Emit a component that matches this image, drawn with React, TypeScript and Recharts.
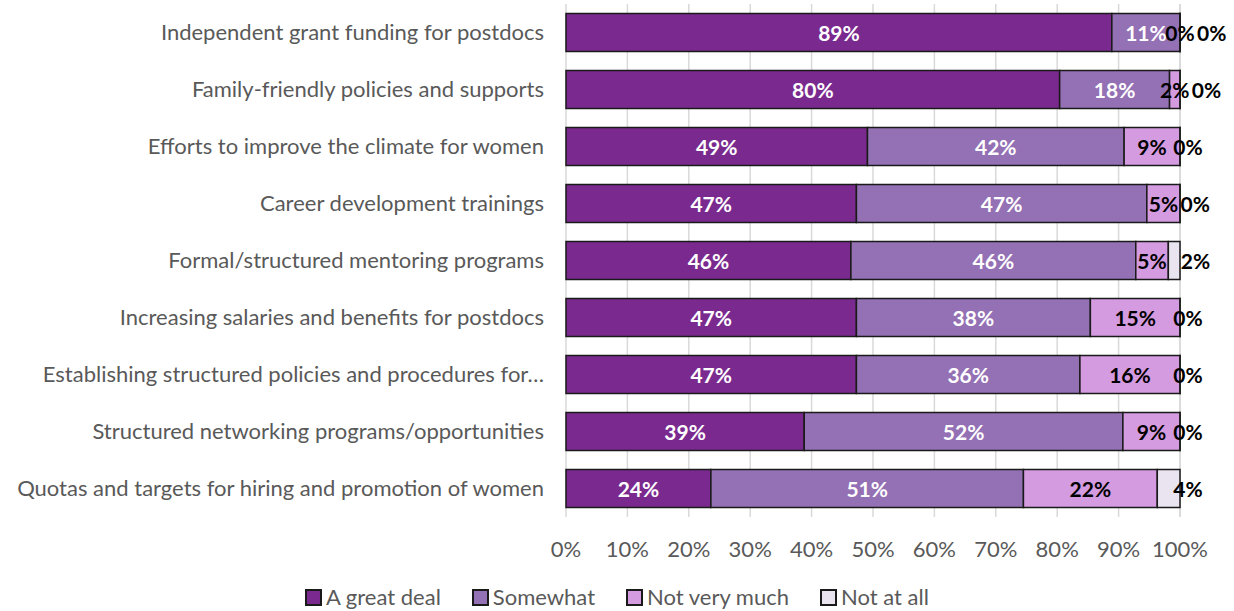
import React from 'react';
import {
  BarChart,
  Bar,
  XAxis,
  YAxis,
  CartesianGrid,
  LabelList
} from 'recharts';

const categories = [
  'Independent grant funding for postdocs',
  'Family-friendly policies and supports',
  'Efforts to improve the climate for women',
  'Career development trainings',
  'Formal/structured mentoring programs',
  'Increasing salaries and benefits for postdocs',
  'Establishing structured policies and procedures for…',
  'Structured networking programs/opportunities',
  'Quotas and targets for hiring and promotion of women'
];

const greatDeal = [88.9, 80.4, 49.1, 47.3, 46.4, 47.3, 47.3, 38.8, 23.6];
const somewhat = [11.1, 17.9, 41.8, 47.3, 46.4, 38.1, 36.4, 51.9, 50.9];
const notVeryMuch = [0, 1.7, 9.1, 5.4, 5.3, 14.6, 16.3, 9.3, 21.8];
const notAtAll = [0, 0, 0, 0, 1.9, 0, 0, 0, 3.7];

const xTicks = [0, 10, 20, 30, 40, 50, 60, 70, 80, 90, 100];

const series = [
  { key: 'greatDeal', name: 'A great deal', color: '#7A2A8F', labelColor: '#FFFFFF' },
  { key: 'somewhat', name: 'Somewhat', color: '#9470B4', labelColor: '#FFFFFF' },
  { key: 'notVeryMuch', name: 'Not very much', color: '#D59BE0', labelColor: '#000000' },
  { key: 'notAtAll', name: 'Not at all', color: '#EAE3F0', labelColor: '#000000' }
];

const data = categories.map((name, i) => ({
  name,
  greatDeal: greatDeal[i],
  somewhat: somewhat[i],
  notVeryMuch: notVeryMuch[i],
  notAtAll: notAtAll[i]
}));

const FONT = 'Lato, "Open Sans", sans-serif';
const LABEL_SIZE = 21;
const PLOT_W = 614;

const pct = (v: number) => `${Math.round(v)}%`;
const textW = (s: string) => s.length * LABEL_SIZE * 0.66;

const centeredLabel = (color: string) => (props: any) => {
  const { x, y, width, height, value } = props;
  return (
    <text
      x={Number(x) + Number(width) / 2}
      y={Number(y) + Number(height) / 2}
      textAnchor="middle"
      dominantBaseline="central"
      fill={color}
      fontFamily={FONT}
      fontSize={LABEL_SIZE}
      fontWeight={700}
    >
      {pct(Number(value))}
    </text>
  );
};

// "Not at all" labels sit just past the bar end, nudged right if the
// "Not very much" label is crowding the end of the bar
const notAtAllLabel = (props: any) => {
  const { x, y, width, height, value, index } = props;
  const end = Number(x) + Number(width);
  const nvm = notVeryMuch[index];
  const nvmCenter = end - ((nvm / 100) * PLOT_W) / 2;
  const nvmRight = nvmCenter + textW(pct(nvm)) / 2;
  const half = textW(pct(Number(value))) / 2;
  const cx = Math.max(end + 8, nvmRight + 4 + half);
  return (
    <text
      x={cx}
      y={Number(y) + Number(height) / 2}
      textAnchor="middle"
      dominantBaseline="central"
      fill="#000000"
      fontFamily={FONT}
      fontSize={LABEL_SIZE}
      fontWeight={700}
    >
      {pct(Number(value))}
    </text>
  );
};

const LegendBox = () => (
  <div
    style={{
      position: 'absolute',
      left: 0,
      top: 585,
      width: 1234,
      display: 'flex',
      justifyContent: 'center',
      fontFamily: FONT,
      fontSize: 22,
      lineHeight: '24px',
      color: '#595959'
    }}
  >
    {series.map((s, i) => (
      <div
        key={s.key}
        style={{ display: 'flex', alignItems: 'center', marginLeft: i === 0 ? 0 : 31 }}
      >
        <span
          style={{
            display: 'inline-block',
            width: 13,
            height: 13,
            background: s.color,
            border: '2px solid #1A1A1A',
            marginRight: 4
          }}
        />
        <span>{s.name}</span>
      </div>
    ))}
  </div>
);

export default function App() {
  return (
    <div style={{ position: 'absolute', left: 0, top: 0, width: 1234, height: 611, background: '#fff', overflow: 'hidden' }}>
      <BarChart
        width={1234}
        height={611}
        data={data}
        layout="vertical"
        margin={{ top: 4, right: 54, bottom: 44, left: 0 }}
        barCategoryGap="16.5%"
      >
        <CartesianGrid horizontal={false} stroke="#D9D9D9" strokeWidth={1.5} />
        <XAxis
          type="number"
          domain={[0, 100]}
          ticks={xTicks}
          tickFormatter={(v) => `${v}%`}
          axisLine={false}
          tickLine={false}
          tickSize={0}
          tickMargin={24}
          height={50}
          tick={{ fill: '#595959', fontSize: 22, fontFamily: FONT }}
        />
        <YAxis
          type="category"
          dataKey="name"
          width={566}
          axisLine={false}
          tickLine={false}
          tickSize={0}
          tickMargin={22}
          interval={0}
          tick={{ fill: '#595959', fontSize: 22, fontFamily: FONT }}
        />
        {series.map((s) => (
          <Bar
            key={s.key}
            dataKey={s.key}
            name={s.name}
            stackId="a"
            fill={s.color}
            stroke="#1A1A1A"
            strokeWidth={1.5}
            minPointSize={0.01}
            isAnimationActive={false}
          >
            <LabelList
              dataKey={s.key}
              content={s.key === 'notAtAll' ? notAtAllLabel : centeredLabel(s.labelColor)}
            />
          </Bar>
        ))}
      </BarChart>
      <LegendBox />
    </div>
  );
}
